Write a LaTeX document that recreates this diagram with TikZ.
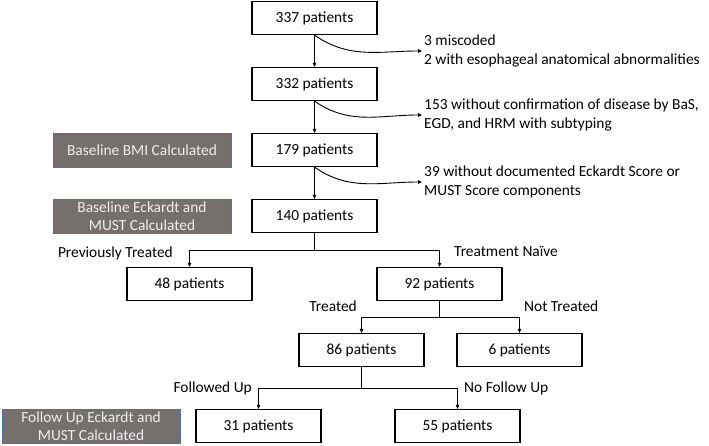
\documentclass[tikz,border=0pt]{standalone}
\usepackage{fontspec}
\setmainfont{Carlito}
\usetikzlibrary{positioning,arrows.meta}
\definecolor{stagefill}{RGB}{117,111,109}
\definecolor{stageedge}{RGB}{84,112,160}
\definecolor{stagetext}{RGB}{240,240,240}
\begin{document}
\begin{tikzpicture}[
  x=1pt, y=1pt,
  node distance=66pt,
  every node/.style={font=\fontsize{15.4}{19.5}\selectfont, inner sep=2pt},
  box/.style={draw, line width=1.2pt, minimum width=125pt, minimum height=33pt, inner sep=0pt},
  stage/.style={fill=stagefill, draw=stageedge, line width=0.8pt, text=stagetext, minimum width=178pt, minimum height=34pt, align=center, inner sep=0pt, font=\fontsize{15.4}{18}\selectfont},
  note/.style={anchor=west, align=left},
  tag/.style={text height=11pt, text depth=4pt},
  arrow/.style={-{Triangle[length=4pt,width=3.5pt]}, line width=0.9pt}
]
\useasboundingbox (0,0) rectangle (709,445);
% main column
\node[box] (n337) at (314.5,427) {337 patients};
\node[box] (n332) [below of=n337] {332 patients};
\node[box] (n179) [below of=n332] {179 patients};
\node[box] (n140) [below of=n179] {140 patients};
\node[stage] (bmi) [left=20pt of n179] {Baseline BMI Calculated};
\node[stage] (base) [left=20pt of n140] {Baseline Eckardt and\\MUST Calculated};
% exclusions
\node[note] (ex1) at (422,394) {3 miscoded\\2 with esophageal anatomical abnormalities};
\node[note] (ex2) at (422,330) {153 without confirmation of disease by BaS,\\EGD, and HRM with subtyping};
\node[note] (ex3) at (422,263) {39 without documented Eckardt Score or\\MUST Score components};
% branches
\node[box] (n48) at (189.5,161) {48 patients};
\node[box] (n92) at (439.5,161) {92 patients};
\node[box] (n86) at (361.5,95) {86 patients};
\node[box] (n6) at (519.5,95) {6 patients};
\node[box] (n31) at (258.5,19) {31 patients};
\node[box] (n55) at (457.5,19) {55 patients};
\node[stage] (follow) [left=15pt of n31] {Follow Up Eckardt and\\MUST Calculated};
\node[tag, anchor=east] (prev) at (175,191) {Previously Treated};
\node[tag, anchor=west] (naive) at (452,192) {Treatment Naïve};
\node[tag, anchor=east] (treated) at (359,137) {Treated};
\node[tag, anchor=west] (nottreated) at (522,137) {Not Treated};
\node[tag, anchor=east] (followed) at (254,56) {Followed Up};
\node[tag, anchor=west] (nofollow) at (462,56) {No Follow Up};
\draw[arrow] (n337) -- (n332);
\draw[arrow] (n332) -- (n179);
\draw[arrow] (n179) -- (n140);
\draw[arrow] (n337.south) to[out=-35,in=180] (ex1.west);
\draw[arrow] (n332.south) to[out=-35,in=180] (ex2.west);
\draw[arrow] (n179.south) to[out=-35,in=180] (ex3.west);
\draw[arrow] (n140.south) -- ++(0,-17) -| (n48.north);
\draw[arrow] (n140.south) -- ++(0,-17) -| (n92.north);
\draw[arrow] (n92.south) -- ++(0,-16.5) -| (n86.north);
\draw[arrow] (n92.south) -- ++(0,-16.5) -| (n6.north);
\draw[arrow] (n86.south) -- ++(0,-21.5) -| (n31.north);
\draw[arrow] (n86.south) -- ++(0,-21.5) -| (n55.north);
\end{tikzpicture}
\end{document}
